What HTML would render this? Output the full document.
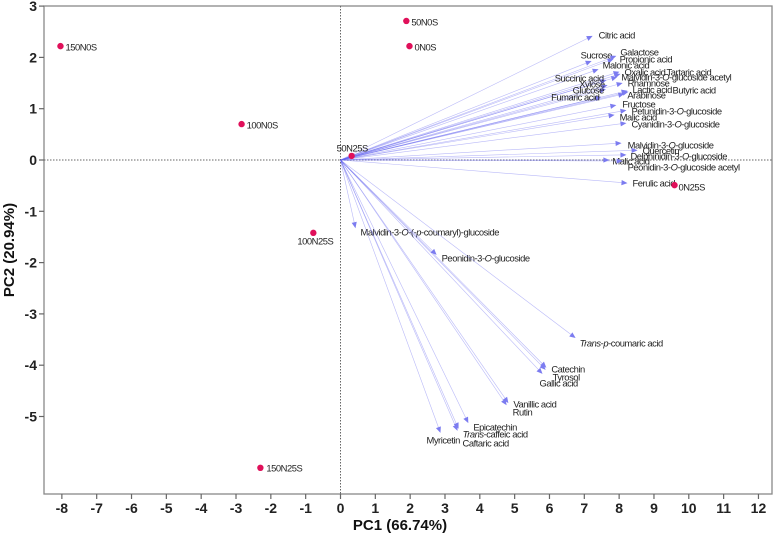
<!DOCTYPE html>
<html><head><meta charset="utf-8"><style>
html,body{margin:0;padding:0;background:#fff;}
svg{display:block;font-family:"Liberation Sans",Arial,sans-serif;}
</style></head><body>
<svg id="chart" width="778" height="535" viewBox="0 0 778 535" xmlns="http://www.w3.org/2000/svg">
<g id="plot"></g>
</svg>
<script>
// ---- data ----
const varNames = ["Citric acid","Sucrose","Galactose","Propionic acid","Malonic acid","Oxalic acid","Tartaric acid","Malvidin-3-*O*-glucoside acetyl","Succinic acid","Xylose","Rhamnose","Glucose","Lactic acid","Butyric acid","Fumaric acid","Arabinose","Fructose","Petunidin-3-*O*-glucoside","Malic acid","Cyanidin-3-*O*-glucoside","Malvidin-3-*O*-glucoside","Quercetin","Delphinidin-3-*O*-glucoside","Malic acid","Peonidin-3-*O*-glucoside acetyl","Ferulic acid","Malvidin-3-*O*-(-*p*-coumaryl)-glucoside","Peonidin-3-*O*-glucoside","*Trans*-*p*-coumaric acid","Catechin","Tyrosol","Gallic acid","Vanillic acid","Rutin","Epicatechin","*Trans*-caffeic acid","Caftaric acid","Myricetin"];
const varPC1 = [7.24,7.21,7.92,7.84,7.41,8.01,8.04,7.95,7.64,7.67,8.10,7.62,8.24,8.27,7.49,8.15,7.92,8.21,7.87,8.21,8.07,8.53,8.21,7.72,8.10,8.24,0.43,2.76,6.75,5.91,5.89,5.80,4.82,4.77,3.67,3.39,3.36,2.87];
const varPC2 = [2.42,1.93,2.03,1.97,1.77,1.72,1.68,1.62,1.56,1.46,1.50,1.38,1.35,1.33,1.23,1.29,1.07,0.97,0.88,0.72,0.33,0.19,0.10,0.00,-0.02,-0.45,-1.33,-1.85,-3.47,-4.05,-4.09,-4.17,-4.74,-4.78,-5.13,-5.24,-5.28,-5.32];
const sampleNames = ["150N0S","100N0S","50N25S","100N25S","50N0S","0N0S","150N25S","0N25S"];
const samplePC1 = [-8.04,-2.84,0.32,-0.78,1.89,1.98,-2.30,9.59];
const samplePC2 = [2.22,0.70,0.08,-1.42,2.71,2.22,-6.00,-0.49];
const xTicks = [-8,-7,-6,-5,-4,-3,-2,-1,0,1,2,3,4,5,6,7,8,9,10,11,12];
const yTicks = [3,2,1,0,-1,-2,-3,-4,-5];

// ---- layout (label offsets in px; [dx, dy, anchor]) ----
const varLabelLayout = {
 0:[6,-1],1:[-11,-6],2:[4,-4],3:[6,0],4:[4,-4],5:[5,0],6:[46,-2],7:[4,0],8:[-3,-2,'end'],9:[-3,-1,'end'],
 10:[5,0],11:[-2,1,'end'],12:[5,-1],13:[44,-2],14:[-2,0,'end'],15:[3,1],16:[6,-1],17:[5,1],18:[5,2],19:[5,1],
 20:[6,2],21:[5,0],22:[4,1],23:[3,1],24:[5,6],25:[5,0],26:[5,4],27:[5,3],28:[4,5],29:[5,1],30:[7,7],31:[-3,9],
 32:[5,1],33:[6,7],34:[5,4],35:[4,5],36:[5,12],37:[-14,7]
};
const sampleLabelLayout = {0:[5,1],1:[5,1],2:[-15,-8],3:[-16,8],4:[5,1],5:[5,1],6:[6,0],7:[4,2]};

const L=44,R=772,T=6,B=494;
const x0px=340.5, xUnit=34.83, y0px=160, yUnit=51.3;
const xs=v=>x0px+v*xUnit, ys=v=>y0px-v*yUnit;
const NS="http://www.w3.org/2000/svg";
const g=document.getElementById('plot');
function mk(tag,attrs,parent){const e=document.createElementNS(NS,tag);for(const k in attrs)e.setAttribute(k,attrs[k]);(parent||g).appendChild(e);return e;}
function richText(el,str){const parts=str.split('*');parts.forEach((p,i)=>{if(!p)return;const t=document.createElementNS(NS,'tspan');if(i%2===1)t.setAttribute('font-style','italic');t.textContent=p;el.appendChild(t);});}

// frame
const frame=mk('rect',{x:L,y:T,width:R-L,height:B-T,fill:'none',stroke:'#888','stroke-width':1.3});


// zero lines
const zv=mk('line',{x1:xs(0),x2:xs(0),y1:T,y2:B,stroke:'#666','stroke-width':1,'stroke-dasharray':'1.5,1.5'});


const zh=mk('line',{x1:L,x2:R,y1:ys(0),y2:ys(0),stroke:'#666','stroke-width':1,'stroke-dasharray':'1.5,1.5'});



// ticks
xTicks.forEach(v=>{
 const tk=mk('line',{x1:xs(v),x2:xs(v),y1:B,y2:B+5,stroke:'#666','stroke-width':1.2});
 
 
 const t=mk('text',{x:xs(v),y:B+19,'text-anchor':'middle','font-size':14,'font-weight':'bold',fill:'#222'});
 t.textContent=v;
 
 
});
yTicks.forEach(v=>{
 const tk=mk('line',{x1:L-5,x2:L,y1:ys(v),y2:ys(v),stroke:'#666','stroke-width':1.2});
 
 
 const t=mk('text',{x:L-7,y:ys(v)+5,'text-anchor':'end','font-size':14,'font-weight':'bold',fill:'#222'});
 t.textContent=v;
 
 
});
// axis titles
const xt=mk('text',{x:400,y:530,'text-anchor':'middle','font-size':15,'font-weight':'bold',fill:'#111'});
xt.textContent='PC1 (66.74%)';


const yt=mk('text',{x:0,y:0,'text-anchor':'middle','font-size':15,'font-weight':'bold',fill:'#111',transform:'translate(14,250) rotate(-90)'});
yt.textContent='PC2 (20.94%)';



// loadings arrows
const ox=xs(0), oy=ys(0);
varNames.forEach((n,i)=>{
 const tx=xs(varPC1[i]), ty=ys(varPC2[i]);
 const ang=Math.atan2(ty-oy,tx-ox);
 const hl=6, hw=2.6;
 const bx=tx-hl*Math.cos(ang), by=ty-hl*Math.sin(ang);
 const ln=mk('line',{x1:ox,y1:oy,x2:bx,y2:by,stroke:'rgba(100,100,240,0.45)','stroke-width':0.6});
 
 
 const px=-Math.sin(ang), py=Math.cos(ang);
 const hd=mk('polygon',{points:`${tx},${ty} ${bx+px*hw},${by+py*hw} ${bx-px*hw},${by-py*hw}`,fill:'#7c7cf0'});
 
 
 const lay=varLabelLayout[i]||[5,0];
 const t=mk('text',{x:tx+lay[0],y:ty+lay[1]+3.5,'font-size':9.4,'letter-spacing':'-0.45px',fill:'#222','text-anchor':lay[2]||'start'});
 richText(t,n);
 
 
});

// sample points
sampleNames.forEach((n,i)=>{
 const cx=xs(samplePC1[i]), cy=ys(samplePC2[i]);
 const c=mk('circle',{cx:cx,cy:cy,r:3.2,fill:'#e0105a'});
 
 
 const lay=sampleLabelLayout[i]||[5,0];
 const t=mk('text',{x:cx+lay[0],y:cy+lay[1]+3.5,'font-size':9.4,'letter-spacing':'-0.45px',fill:'#222'});
 t.textContent=n;
 
 
});
</script>
</body></html>
